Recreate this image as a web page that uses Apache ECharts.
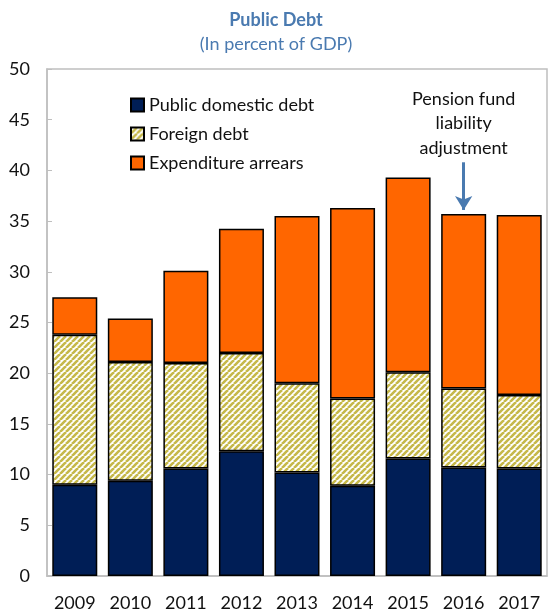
<!DOCTYPE html>
<html><head><meta charset="utf-8">
<script src="https://cdn.jsdelivr.net/npm/echarts@6/dist/echarts.min.js"></script>
<style>html,body{margin:0;padding:0;background:#fff}#c{width:552px;height:614px}</style>
</head><body><div id="c"></div>
<script>
const years = ['2009','2010','2011','2012','2013','2014','2015','2016','2017'];
const domestic = [9.0, 9.4, 10.6, 12.3, 10.2, 8.9, 11.6, 10.7, 10.6];
const foreignTotal = [23.8, 21.1, 21.0, 22.0, 19.0, 17.5, 20.1, 18.5, 17.85];
const arrearsTotal = [27.5, 25.4, 30.1, 34.25, 35.5, 36.3, 39.3, 35.7, 35.6];
const foreign = foreignTotal.map((v, i) => +(v - domestic[i]).toFixed(2));
const arrears = arrearsTotal.map((v, i) => +(v - foreignTotal[i]).toFixed(2));
const yTicks = [0, 5, 10, 15, 20, 25, 30, 35, 40, 45, 50];

const font = 'Lato, "Open Sans", sans-serif';
const pc = document.createElement('canvas');
pc.width = 6; pc.height = 6;
const g = pc.getContext('2d');
g.fillStyle = '#ffffff'; g.fillRect(0, 0, 6, 6);
g.strokeStyle = '#c6b84a'; g.lineWidth = 2.6;
for (let k = -6; k <= 12; k += 6) {
  g.beginPath(); g.moveTo(k, 6); g.lineTo(k + 6, 0); g.stroke();
}

const chart = echarts.init(document.getElementById('c'), null, {renderer: 'canvas'});
const border = {borderColor: '#000', borderWidth: 1.5};
chart.setOption({
  animation: false,
  title: {
    text: 'Public Debt', subtext: '(In percent of GDP)', left: 'center', top: 6,
    textStyle: {fontFamily: font, fontSize: 18, fontWeight: 'bold', color: '#4a7ab0'},
    subtextStyle: {fontFamily: font, fontSize: 18, color: '#4a7ab0'}, itemGap: 6
  },
  legend: {
    orient: 'vertical', left: 125, top: 91, itemGap: 11, itemWidth: 13, itemHeight: 13,
    icon: 'rect',
    textStyle: {fontFamily: font, fontSize: 18, color: '#111'},
    data: ['Public domestic debt', 'Foreign debt', 'Expenditure arrears']
  },
  grid: {left: 47, right: 5, top: 69, bottom: 38, show: true, borderColor: '#bfbfbf', borderWidth: 1.5},
  xAxis: {
    type: 'category', data: years,
    axisLine: {lineStyle: {color: '#bfbfbf', width: 1.5}},
    axisTick: {inside: true, length: 5, lineStyle: {color: '#bfbfbf'}},
    axisLabel: {fontFamily: font, fontSize: 18, color: '#111', margin: 18}
  },
  yAxis: {
    type: 'value', min: yTicks[0], max: yTicks[yTicks.length - 1], interval: 5,
    splitLine: {show: false},
    axisLine: {show: true, lineStyle: {color: '#bfbfbf', width: 1.5}},
    axisTick: {show: true, inside: true, length: 5, lineStyle: {color: '#bfbfbf'}},
    axisLabel: {fontFamily: font, fontSize: 18, color: '#111', margin: 17}
  },
  series: [
    {name: 'Public domestic debt', type: 'bar', stack: 's', barWidth: '81%', data: domestic,
     itemStyle: Object.assign({color: '#001e56'}, border)},
    {name: 'Foreign debt', type: 'bar', stack: 's', data: foreign,
     itemStyle: Object.assign({color: {image: pc, repeat: 'repeat'}}, border)},
    {name: 'Expenditure arrears', type: 'bar', stack: 's', data: arrears,
     itemStyle: Object.assign({color: '#ff6600'}, border),
     markLine: {
       silent: true, symbol: ['none', 'arrow'], symbolSize: [13, 14],
       lineStyle: {color: '#4a7ab0', width: 3, type: 'solid'}, label: {show: false},
       data: [[{coord: ['2016', 40.8]}, {coord: ['2016', 36.1]}]]
     },
     markPoint: {
       silent: true, symbol: 'circle', symbolSize: 0,
       label: {show: true, position: 'inside', formatter: 'Pension fund\nliability\nadjustment',
               fontFamily: font, fontSize: 18, color: '#111', lineHeight: 24.5, align: 'center'},
       data: [{coord: ['2016', 44.65]}]
     }}
  ]
});
</script></body></html>
